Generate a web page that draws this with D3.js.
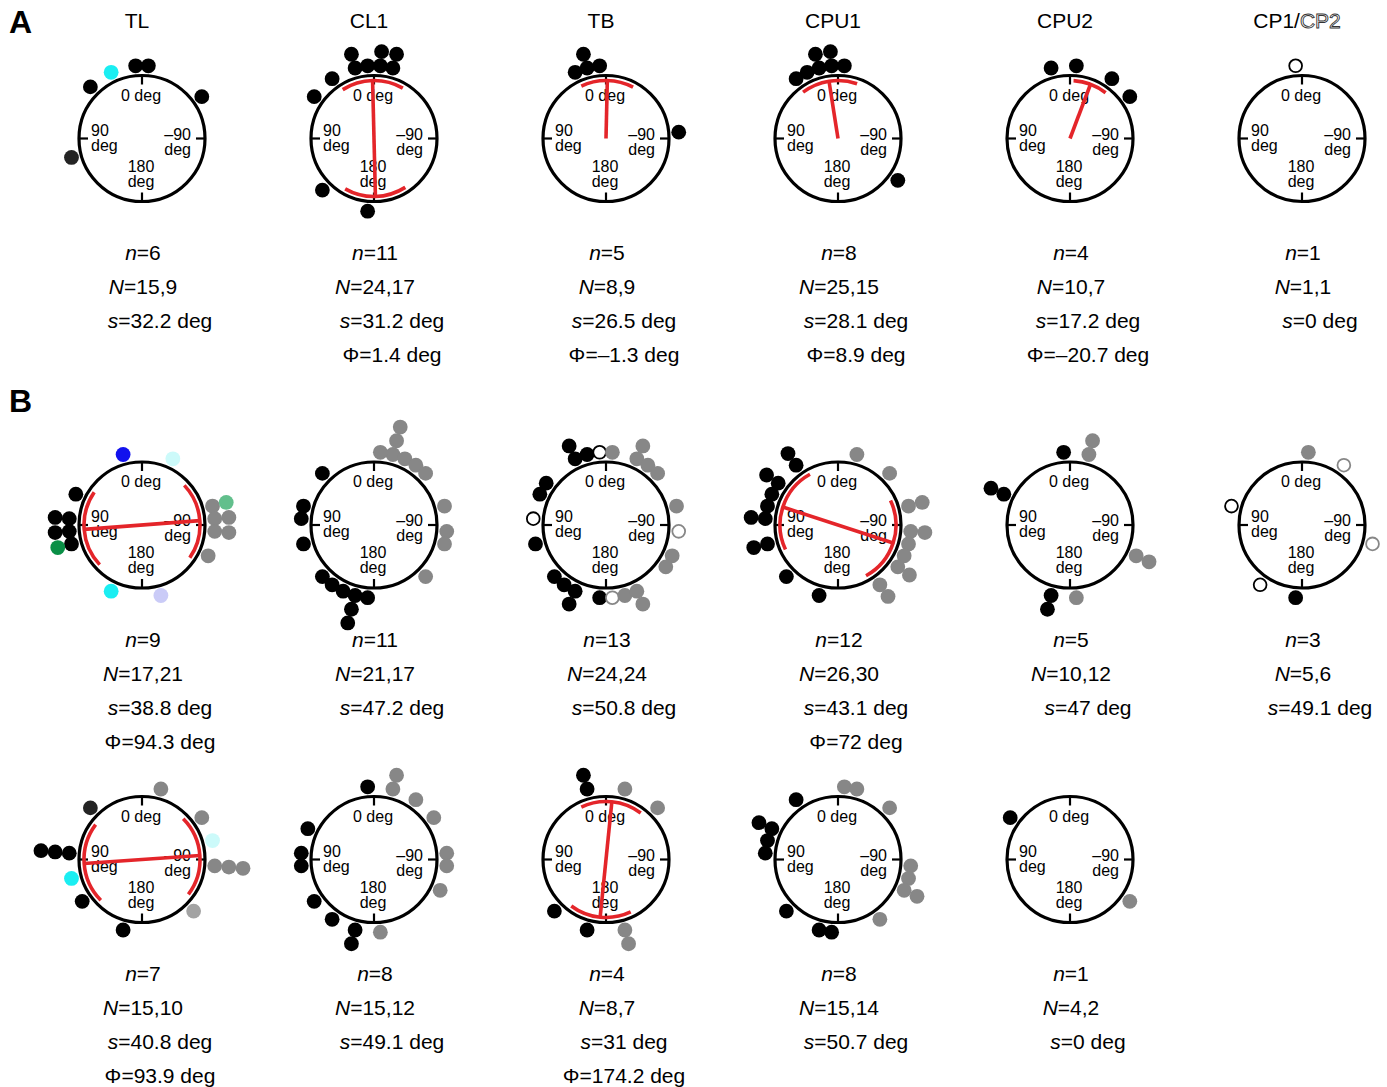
<!DOCTYPE html>
<html><head><meta charset="utf-8">
<script src="https://cdn.jsdelivr.net/npm/d3@7"></script>
<style>
html,body{margin:0;padding:0;background:#fff;}
svg{display:block;font-family:Arial,"Liberation Sans",Helvetica,sans-serif;}
</style></head><body>
<svg id="chart" width="1387" height="1087"></svg>
<script>
// ---- Row A: cell types ----
const titlesA = ["TL", "CL1", "TB", "CPU1", "CPU2", "CP1/CP2"];

// Preferred angles (deg, 0 = up, positive = counter-clockwise) with marker kind
const dotsTL   = [[25,"cy"],[5,"k"],[-5,"k"],[45,"k"],[-55,"k"],[105,"dk"]];
const dotsCL1  = [[15,"k"],[15,"k"],[5,"k"],[-5,"k"],[-5,"k"],[-15,"k"],[-15,"k"],[35,"k"],[55,"k"],[135,"k"],[175,"k"]];
const dotsTB   = [[25,"k"],[15,"k"],[15,"k"],[5,"k"],[-85,"k"]];
const dotsCPU1 = [[35,"k"],[25,"k"],[15,"k"],[15,"k"],[5,"k"],[5,"k"],[-5,"k"],[-125,"k"]];
const dotsCPU2 = [[15,"k"],[-5,"k"],[-35,"k"],[-55,"k"]];
const dotsCP   = [[5,"ok"]];

const nA   = [6, 11, 5, 8, 4, 1];
const NA   = ["15,9", "24,17", "8,9", "25,15", "10,7", "1,1"];
const sA   = [32.2, 31.2, 26.5, 28.1, 17.2, 0];
const phiA = [null, 1.4, -1.3, 8.9, -20.7, null];
const axialA = [false, true, false, false, false, false];

// ---- Row B, upper line ----
const dotsB1_1 = [[15,"bl"],[-25,"lc"],[65,"k"],[85,"k"],[85,"k"],[95,"k"],[95,"k"],[105,"k"],[105,"gr"],[155,"cy"],[-165,"lav"],
                  [-75,"g"],[-75,"lgr"],[-85,"g"],[-85,"g"],[-95,"g"],[-95,"g"],[-115,"g"]];
const dotsB1_2 = [[-15,"g"],[-15,"g"],[-15,"g"],[-5,"g"],[-25,"g"],[-35,"g"],[-45,"g"],[-75,"g"],[-95,"g"],[-105,"g"],[-135,"g"],
                  [45,"k"],[75,"k"],[85,"k"],[105,"k"],[135,"k"],[145,"k"],[155,"k"],[165,"k"],[165,"k"],[165,"k"],[175,"k"]];
const dotsB1_3 = [[25,"k"],[25,"k"],[15,"k"],[5,"ok"],[55,"k"],[65,"k"],[85,"ok"],[105,"k"],[135,"k"],[145,"k"],[155,"k"],[155,"k"],[175,"k"],
                  [-175,"og"],[-165,"g"],[-155,"g"],[-155,"g"],[-75,"g"],[-95,"og"],[-115,"g"],[-125,"g"],[-5,"g"],[-25,"g"],[-25,"g"],[-35,"g"],[-45,"g"]];
const dotsB1_4 = [[35,"k"],[35,"k"],[55,"k"],[55,"k"],[65,"k"],[75,"k"],[85,"k"],[85,"k"],[105,"k"],[105,"k"],[135,"k"],[165,"k"],
                  [-15,"g"],[-45,"g"],[-75,"g"],[-75,"g"],[-95,"g"],[-95,"g"],[-105,"g"],[-115,"g"],[-125,"g"],[-125,"g"],[-145,"g"],[-145,"g"]];
const dotsB1_5 = [[5,"k"],[65,"k"],[65,"k"],[165,"k"],[165,"k"],[-15,"g"],[-15,"g"],[-115,"g"],[-115,"g"],[-175,"g"]];
const dotsB1_6 = [[-5,"g"],[-35,"og"],[75,"ok"],[-105,"og"],[145,"ok"],[175,"k"]];

const nB1   = [9, 11, 13, 12, 5, 3];
const NB1   = ["17,21", "21,17", "24,24", "26,30", "10,12", "5,6"];
const sB1   = [38.8, 47.2, 50.8, 43.1, 47, 49.1];
const phiB1 = [94.3, null, null, 72, null, null];

// ---- Row B, lower line ----
const dotsB2_1 = [[45,"dk"],[85,"k"],[85,"k"],[85,"k"],[105,"cy"],[125,"k"],[165,"k"],
                  [-15,"g"],[-55,"g"],[-75,"lc"],[-95,"g"],[-95,"g"],[-95,"g"],[-135,"lg"]];
const dotsB2_2 = [[5,"k"],[65,"k"],[85,"k"],[95,"k"],[125,"k"],[145,"k"],[165,"k"],[165,"k"],
                  [-175,"g"],[-15,"g"],[-15,"g"],[-35,"g"],[-55,"g"],[-85,"g"],[-95,"g"],[-115,"g"]];
const dotsB2_3 = [[15,"k"],[15,"k"],[135,"k"],[165,"k"],[-15,"g"],[-45,"g"],[-165,"g"],[-165,"g"]];
const dotsB2_4 = [[35,"k"],[65,"k"],[65,"k"],[75,"k"],[85,"k"],[135,"k"],[165,"k"],[175,"k"],
                  [-5,"g"],[-15,"g"],[-45,"g"],[-95,"g"],[-105,"g"],[-115,"g"],[-115,"g"],[-145,"g"]];
const dotsB2_5 = [[55,"k"],[-125,"g"]];

const nB2   = [7, 8, 4, 8, 1];
const NB2   = ["15,10", "15,12", "8,7", "15,14", "4,2"];
const sB2   = [40.8, 49.1, 31, 50.7, 0];
const phiB2 = [93.9, null, 174.2, null, null];

// ---- marker styles ----
const markerStyle = {
  k:   {fill: "#000000", stroke: "none"},
  g:   {fill: "#878787", stroke: "none"},
  dk:  {fill: "#242424", stroke: "none"},
  lg:  {fill: "#a3a3a3", stroke: "none"},
  cy:  {fill: "#1aeef2", stroke: "none"},
  lc:  {fill: "#ccfafa", stroke: "none"},
  bl:  {fill: "#1212ee", stroke: "none"},
  gr:  {fill: "#0a8f46", stroke: "none"},
  lgr: {fill: "#62bf8c", stroke: "none"},
  lav: {fill: "#cacbf7", stroke: "none"},
  ok:  {fill: "#ffffff", stroke: "#000000"},
  og:  {fill: "#ffffff", stroke: "#878787"}
};

const svg = d3.select("#chart");
const R = 63;            // compass circle radius
const ARC_R = 58;        // radius of mean-direction arcs
const DOT_R = 7.4;
const RED = "#e4252a";

const degToRad = d3.scaleLinear().domain([0, 360]).range([0, 2 * Math.PI]);
// stacking distance for dots sharing a 10-degree bin
const stackRadius = d3.scaleLinear().domain([0, 1]).range([73, 87.2]);
const colX = d3.scalePoint().domain(d3.range(6)).range([142, 1302]);
const rowY = [138.5, 525, 859.5];

// angle measured counter-clockwise from straight up
function polar(theta, r) { return d3.pointRadial(-degToRad(theta), r); }
const binCenter = a => Math.floor(a / 10) * 10 + 5;
const fmt = v => String(v).replace("-", "\u2013");
const arcGen = d3.arc();

function drawPanel(cx, cy, dots, phi, s, axial) {
  const g = svg.append("g").attr("transform", `translate(${cx},${cy})`);
  g.append("circle").attr("r", R).attr("fill", "none")
    .attr("stroke", "#000").attr("stroke-width", 3.2);
  [0, 90, -90, 180].forEach(a => {
    const p1 = polar(a, R + 1), p2 = polar(a, R - 9);
    g.append("line").attr("x1", p1[0]).attr("y1", p1[1]).attr("x2", p2[0]).attr("y2", p2[1])
      .attr("stroke", "#000").attr("stroke-width", 2.2);
  });
  const lab = g.append("g").attr("font-size", 16).attr("fill", "#000");
  lab.append("text").attr("x", -1).attr("y", -38).attr("text-anchor", "middle").text("0 deg");
  const l = lab.append("text").attr("text-anchor", "start");
  l.append("tspan").attr("x", -51).attr("y", -3).text("90");
  l.append("tspan").attr("x", -51).attr("y", 12).text("deg");
  const r = lab.append("text").attr("text-anchor", "end");
  r.append("tspan").attr("x", 49).attr("y", 1).text("\u201390");
  r.append("tspan").attr("x", 49).attr("y", 16).text("deg");
  const b = lab.append("text").attr("text-anchor", "middle");
  b.append("tspan").attr("x", -1).attr("y", 33).text("180");
  b.append("tspan").attr("x", -1).attr("y", 48).text("deg");

  if (phi !== null) {
    const red = g.append("g").attr("stroke", RED).attr("fill", "none").attr("stroke-width", 3.6);
    const ends = axial ? [phi, phi + 180] : [phi];
    ends.forEach(c => {
      red.append("path").attr("d", arcGen({innerRadius: ARC_R, outerRadius: ARC_R,
        startAngle: -degToRad(c + s), endAngle: -degToRad(c - s)}));
    });
    const p1 = axial ? polar(phi + 180, ARC_R) : [0, 0];
    const p2 = polar(phi, ARC_R);
    red.append("line").attr("x1", p1[0]).attr("y1", p1[1]).attr("x2", p2[0]).attr("y2", p2[1]);
  }

  const counts = new Map();
  dots.forEach(([a, kind]) => {
    const bc = binCenter(a);
    const lvl = counts.get(bc) || 0;
    counts.set(bc, lvl + 1);
    const [x, y] = polar(bc, stackRadius(lvl));
    const st = markerStyle[kind];
    const open = st.stroke !== "none";
    g.append("circle").attr("cx", x).attr("cy", y)
      .attr("r", open ? DOT_R - 1 : DOT_R)
      .attr("fill", st.fill)
      .attr("stroke", open ? st.stroke : "none")
      .attr("stroke-width", open ? 1.8 : 0);
  });
}

function drawStats(cx, cy, n, N, s, phi) {
  const t = svg.append("g").attr("font-size", 21).attr("fill", "#000");
  const y0 = cy + 121.5, dy = 34;
  const line = (x, y, sym, rest, italic) => {
    const tx = t.append("text").attr("x", x).attr("y", y).attr("text-anchor", "middle");
    tx.append("tspan").attr("font-style", italic ? "italic" : "normal").text(sym);
    tx.append("tspan").text(rest);
  };
  line(cx + 1, y0, "n", "=" + n, true);
  line(cx + 1, y0 + dy, "N", "=" + N, true);
  line(cx + 18, y0 + 2 * dy, "s", "=" + fmt(s) + " deg", true);
  if (phi !== null) line(cx + 18, y0 + 3 * dy, "\u03A6", "=" + fmt(phi) + " deg", false);
}

// panel letters
svg.append("text").attr("x", 9).attr("y", 33).attr("font-size", 32).attr("font-weight", "bold").text("A");
svg.append("text").attr("x", 9).attr("y", 412).attr("font-size", 32).attr("font-weight", "bold").text("B");

// row A titles
titlesA.forEach((name, i) => {
  const t = svg.append("text").attr("x", colX(i) - 5).attr("y", 28)
    .attr("font-size", 21).attr("text-anchor", "middle");
  if (name.includes("/")) {
    const parts = name.split("/");
    t.append("tspan").text(parts[0] + "/");
    t.append("tspan").attr("fill", "#fff").attr("stroke", "#333").attr("stroke-width", 0.9).text(parts[1]);
  } else {
    t.text(name);
  }
});

const rowsA  = [dotsTL, dotsCL1, dotsTB, dotsCPU1, dotsCPU2, dotsCP];
const rowsB1 = [dotsB1_1, dotsB1_2, dotsB1_3, dotsB1_4, dotsB1_5, dotsB1_6];
const rowsB2 = [dotsB2_1, dotsB2_2, dotsB2_3, dotsB2_4, dotsB2_5];

rowsA.forEach((d, i) => {
  drawPanel(colX(i), rowY[0], d, phiA[i], sA[i], axialA[i]);
  drawStats(colX(i), rowY[0], nA[i], NA[i], sA[i], phiA[i]);
});
rowsB1.forEach((d, i) => {
  drawPanel(colX(i), rowY[1], d, phiB1[i], sB1[i], true);
  drawStats(colX(i), rowY[1], nB1[i], NB1[i], sB1[i], phiB1[i]);
});
rowsB2.forEach((d, i) => {
  drawPanel(colX(i), rowY[2], d, phiB2[i], sB2[i], true);
  drawStats(colX(i), rowY[2], nB2[i], NB2[i], sB2[i], phiB2[i]);
});
</script>
</body></html>
